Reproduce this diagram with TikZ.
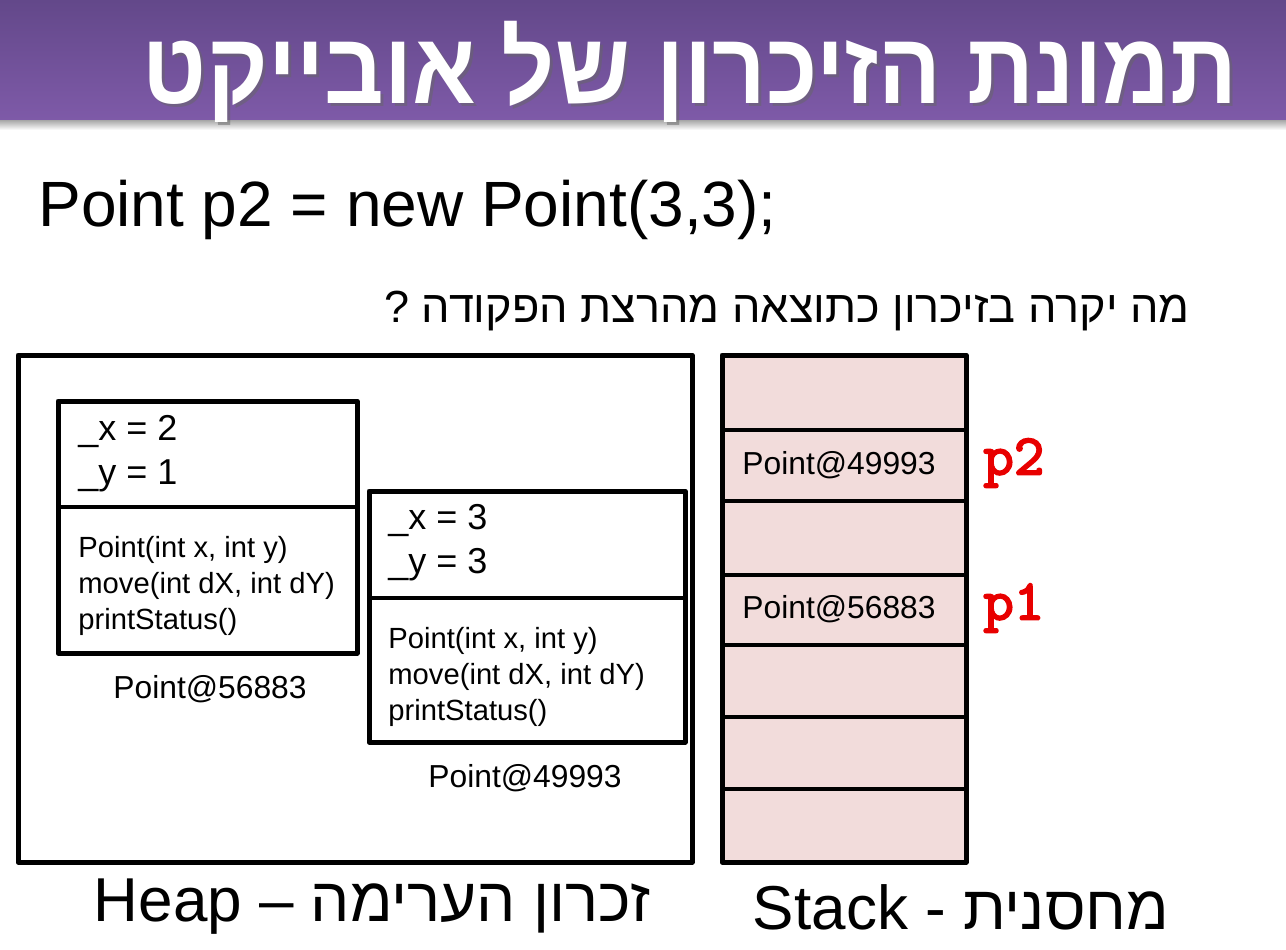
\documentclass[tikz,border=0pt]{standalone}
\usepackage{fontspec}
\setmainfont{Liberation Sans}
\newfontfamily\hebfont[Script=Hebrew]{Liberation Sans}
\newfontfamily\varfont[FakeBold=3]{lmmono10-regular.otf}
\TeXXeTstate=1
\definecolor{barTop}{RGB}{99,72,138}
\definecolor{barBot}{RGB}{126,90,168}
\definecolor{stackFill}{RGB}{242,220,219}
\definecolor{ptRed}{RGB}{232,0,0}
\tikzset{
  frame/.style={draw,line width=2.5pt},
  cellline/.style={line width=2pt},
  fieldtxt/.style={anchor=west,inner sep=0pt,align=left,font=\fontsize{18}{22}\selectfont},
  methtxt/.style={anchor=west,inner sep=0pt,align=left,font=\fontsize{14.6}{17.8}\selectfont},
  addr/.style={inner sep=0pt,font=\fontsize{15.9}{17}\selectfont},
  varname/.style={inner sep=0pt,text=ptRed,font=\varfont\fontsize{29}{29}\selectfont},
}
\begin{document}
\begin{tikzpicture}[x=0.5pt,y=-0.5pt,line join=round]
\useasboundingbox (0,0) rectangle (1286,949);
% header bar
\shade[top color=barTop,bottom color=barBot](0,0) rectangle (1286,120);
\shade[top color=black!35,bottom color=white](0,120) rectangle (1286,130);
\node[text=black!60,opacity=.5] (titleshadow) at (693,75)
  {\scalebox{1.06}[1.15]{\hebfont\bfseries\fontsize{44}{44}\selectfont\beginR תמונת הזיכרון של אובייקט\endR}};
\node[text=white] (title) at (690,72)
  {\scalebox{1.06}[1.15]{\hebfont\bfseries\fontsize{44}{44}\selectfont\beginR תמונת הזיכרון של אובייקט\endR}};

% code line and question
\node[anchor=west,inner sep=0pt,font=\fontsize{32}{32}\selectfont] (code) at (38,210) {Point p2 = new Point(3,3);};
\node[anchor=east,inner sep=0pt,font=\hebfont\fontsize{22.5}{22.5}\selectfont] (question) at (1190,311)
  {\beginR מה יקרה בזיכרון כתוצאה מהרצת הפקודה ?\endR};

% heap
\draw[frame](18,355) rectangle (692,862);
% object p1
\draw[frame,fill=white](58,401) rectangle (357,653);
\draw[cellline](58,507)--(357,507);
\node[fieldtxt] (p1fields) at (78,454) {\_x = 2\\\_y = 1};
\node[methtxt] (p1meths) at (78,586) {Point(int x, int y)\\move(int dX, int dY)\\printStatus()};
\node[addr] (p1addr) at (210,689) {Point@56883};
% object p2
\draw[frame,fill=white](369,491) rectangle (685,742);
\draw[cellline](369,598)--(685,598);
\node[fieldtxt] (p2fields) at (388,543) {\_x = 3\\\_y = 3};
\node[methtxt] (p2meths) at (388,677) {Point(int x, int y)\\move(int dX, int dY)\\printStatus()};
\node[addr] (p2addr) at (525,778) {Point@49993};

% stack
\filldraw[frame,fill=stackFill](722,355) rectangle (966,862);
\foreach \y in {430,501,575,645,717,789}
  \draw[cellline](722,\y)--(966,\y);
\node[addr] (s2) at (839,465) {Point@49993};
\node[addr] (s1) at (839,609) {Point@56883};
\node[varname,anchor=west] (p2name) at (983,463) {p2};
\node[varname,anchor=west] (p1name) at (983,608) {p1};

% captions
\node[font=\fontsize{31}{31}\selectfont] (heapcap) at (372,907)
  {\hebfont\beginR זכרון הערימה – \beginL Heap\endL\endR};
\node[font=\fontsize{31}{31}\selectfont] (stackcap) at (961,907)
  {\hebfont\beginR מחסנית - \beginL Stack\endL\endR};
\end{tikzpicture}
\end{document}
